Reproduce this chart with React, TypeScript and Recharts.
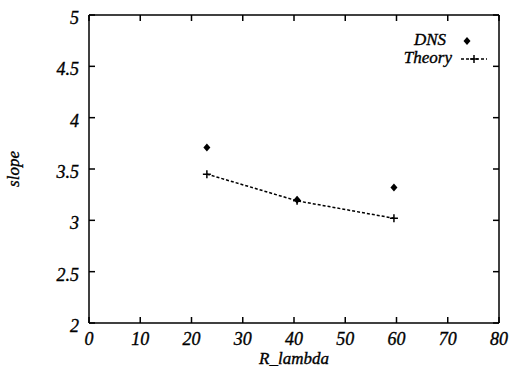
import React from 'react'
import { ComposedChart, Line, Scatter, XAxis, YAxis } from 'recharts'

const xTicks = [0, 10, 20, 30, 40, 50, 60, 70, 80]
const yTicks = [2, 2.5, 3, 3.5, 4, 4.5, 5]

const dnsR = [23, 40.6, 59.5]
const dnsSlope = [3.71, 3.2, 3.32]
const theoryR = [23, 40.6, 59.5]
const theorySlope = [3.45, 3.19, 3.02]

const dnsData = dnsR.map((r, i) => ({ r, slope: dnsSlope[i] }))
const theoryData = theoryR.map((r, i) => ({ r, theory: theorySlope[i] }))

const FONT = '"Liberation Serif", "DejaVu Serif", serif'
const txt = { fontFamily: FONT, fontStyle: 'italic', fontSize: 18, fill: '#000', stroke: '#000', strokeWidth: 0.35 }

// plot frame edges (from chart margins / axis sizes below)
const PLOT_TOP = 15
const PLOT_RIGHT = 499

const Diamond = (p: any) => {
  const { cx, cy } = p
  if (cx == null || cy == null) return <g />
  return <path d={`M${cx},${cy - 4}L${cx + 3.5},${cy}L${cx},${cy + 4}L${cx - 3.5},${cy}Z`} fill="#000" />
}

const Cross = (p: any) => {
  const { cx, cy } = p
  if (cx == null || cy == null) return <g />
  return (
    <path d={`M${cx - 4},${cy}H${cx + 4}M${cx},${cy - 4}V${cy + 4}`} stroke="#000" strokeWidth={1.5} fill="none" />
  )
}

const NoTick = () => <g />

// bottom labels + inward tick marks on bottom and top edges
const BottomTick = (p: any) => (
  <g>
    <line x1={p.x} x2={p.x} y1={p.y} y2={p.y - 6} stroke="#000" strokeWidth={1.5} />
    <line x1={p.x} x2={p.x} y1={PLOT_TOP} y2={PLOT_TOP + 6} stroke="#000" strokeWidth={1.5} />
    <text x={p.x} y={p.y + 22} textAnchor="middle" style={txt}>
      {p.payload.value}
    </text>
  </g>
)

// left labels + inward tick marks on left and right edges
const LeftTick = (p: any) => (
  <g>
    <line x1={p.x} x2={p.x + 6} y1={p.y} y2={p.y} stroke="#000" strokeWidth={1.5} />
    <line x1={PLOT_RIGHT} x2={PLOT_RIGHT - 6} y1={p.y} y2={p.y} stroke="#000" strokeWidth={1.5} />
    <text x={p.x - 10} y={p.y + 9} textAnchor="end" style={txt}>
      {p.payload.value}
    </text>
  </g>
)

// key in the top-right corner, drawn over the plot like gnuplot does
const KeyBox = () => (
  <svg width={509} height={370} style={{ position: 'absolute', left: 0, top: 0, pointerEvents: 'none' }}>
    <text x={446} y={45} textAnchor="end" style={{ ...txt, fontSize: 17 }}>DNS</text>
    <path d="M467,37L470.5,41L467,45L463.5,41Z" fill="#000" />
    <text x={452} y={63} textAnchor="end" style={{ ...txt, fontSize: 17 }}>Theory</text>
    <line x1={461} x2={487} y1={59} y2={59} stroke="#000" strokeWidth={1.5} strokeDasharray="3 2" />
    <path d="M470,59H478M474,55V63" stroke="#000" strokeWidth={1.5} />
  </svg>
)

export default function App() {
  return (
    <div style={{ position: 'absolute', left: 0, top: 0, width: 509, height: 370, background: '#fff' }}>
      <ComposedChart width={509} height={370} margin={{ top: 15, right: 10, bottom: 0, left: 0 }}>
        <XAxis
          dataKey="r"
          type="number"
          domain={[0, 80]}
          ticks={xTicks}
          allowDuplicatedCategory={false}
          height={47}
          tickSize={0}
          tickMargin={0}
          tickLine={false}
          tick={<BottomTick />}
          axisLine={{ stroke: '#000', strokeWidth: 1.5 }}
          label={{ value: 'R_lambda', position: 'insideBottom', offset: 6, style: { ...txt, fontSize: 17 } }}
        />
        <XAxis
          xAxisId="top"
          type="number"
          orientation="top"
          mirror
          domain={[0, 80]}
          ticks={xTicks}
          tick={<NoTick />}
          tickLine={false}
          axisLine={{ stroke: '#000', strokeWidth: 1.5 }}
        />
        <YAxis
          type="number"
          domain={[2, 5]}
          ticks={yTicks}
          width={89}
          tickSize={0}
          tickMargin={0}
          tickLine={false}
          tick={<LeftTick />}
          axisLine={{ stroke: '#000', strokeWidth: 1.5 }}
          label={{ value: 'slope', angle: -90, position: 'insideLeft', offset: 13, style: { ...txt, fontSize: 17, textAnchor: 'middle' } }}
        />
        <YAxis
          yAxisId="right"
          type="number"
          orientation="right"
          mirror
          domain={[2, 5]}
          ticks={yTicks}
          tick={<NoTick />}
          tickLine={false}
          axisLine={{ stroke: '#000', strokeWidth: 1.5 }}
        />
        <Scatter
          name="DNS"
          data={dnsData}
          dataKey="slope"
          shape={<Diamond />}
          isAnimationActive={false}
        />
        <Line
          name="Theory"
          data={theoryData}
          dataKey="theory"
          stroke="#000"
          strokeWidth={1.5}
          strokeDasharray="3 2"
          dot={<Cross />}
          activeDot={false}
          isAnimationActive={false}
        />
      </ComposedChart>
      <KeyBox />
    </div>
  )
}
